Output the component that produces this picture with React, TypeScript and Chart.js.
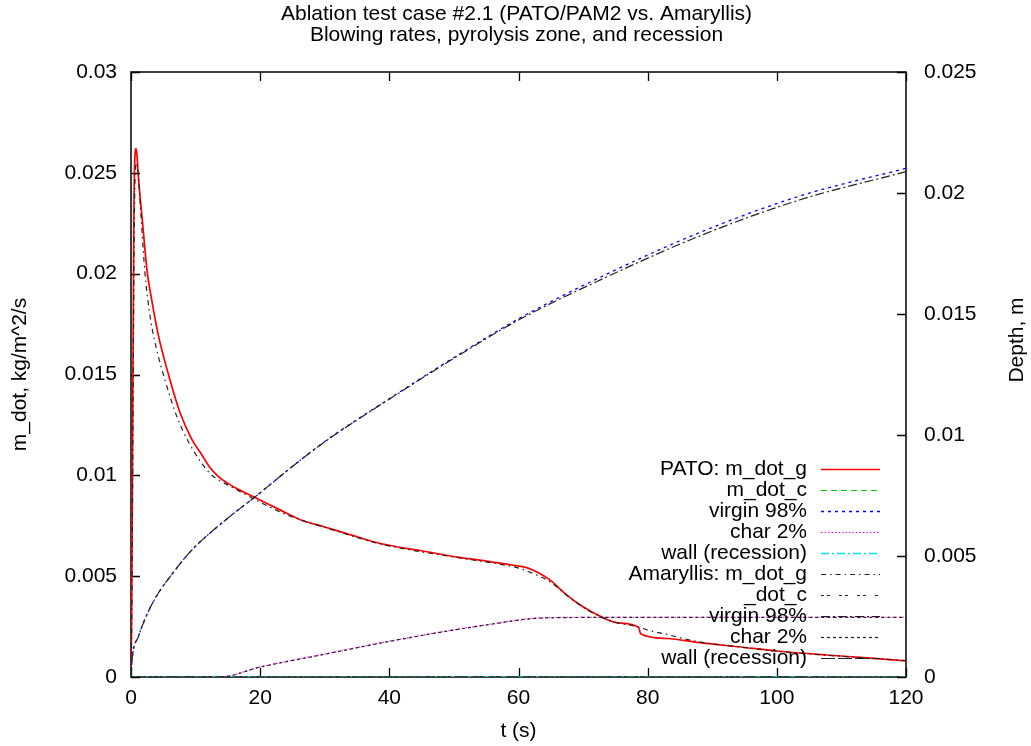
import React, { useEffect, useRef } from 'react';
import { Chart, registerables } from 'chart.js';
Chart.register(...registerables);

const FONT = "'Liberation Sans', Arial, Helvetica, sans-serif";
const FS = 21;

const titleLines = ['Ablation test case #2.1 (PATO/PAM2 vs. Amaryllis)', 'Blowing rates, pyrolysis zone, and recession'];
const xAxisTitle = 't (s)';
const yAxisTitle = 'm_dot, kg/m^2/s';
const y2AxisTitle = 'Depth, m';

const legendLabels = [
  'PATO: m_dot_g', 'm_dot_c', 'virgin 98%', 'char 2%', 'wall (recession)',
  'Amaryllis: m_dot_g', '_dot_c', 'virgin 98%', 'char 2%', 'wall (recession)',
];

// PATO m_dot_g (left axis)
const tPatoG = [0, 0.1, 0.25, 0.45, 0.6, 0.77, 0.95, 1.1, 1.8, 2.5, 3.1, 4.2, 5.8, 7.6, 9.4, 11, 12.2, 13.5, 15, 16.5, 19.2, 23, 26.2, 30, 34, 38.6, 45, 50.9, 55, 59.2, 61.5, 63.3, 64.9, 67.5, 70, 72.6, 75.2, 78.6, 78.9, 83, 88, 94, 100, 107.7, 114, 120];
const patoG = [0, 0.003, 0.012, 0.023, 0.0258, 0.0262, 0.0258, 0.025, 0.0225, 0.0201, 0.0189, 0.017, 0.015, 0.0131, 0.0118, 0.011, 0.0104, 0.00995, 0.0096, 0.00932, 0.0089, 0.0083, 0.0078, 0.00744, 0.00705, 0.00662, 0.00626, 0.00593, 0.00575, 0.00554, 0.0054, 0.00513, 0.0048, 0.00406, 0.00348, 0.00302, 0.00269, 0.00246, 0.00215, 0.00191, 0.0017, 0.0015, 0.00129, 0.00109, 0.00095, 0.0008];

// Amaryllis m_dot_g (left axis)
const tAmaG = [0, 0.15, 0.3, 0.5, 0.7, 0.9, 1.2, 2.17, 3, 4, 5.2, 7, 9, 12.2, 14, 16, 19.2, 23, 26.2, 30, 38.6, 50.9, 57, 60, 62.5, 65, 67.5, 70, 72.6, 75.2, 78.6, 80, 83, 85.5, 88, 94, 100, 107.7, 114, 120];
const amaG = [0, 0.004, 0.012, 0.022, 0.0252, 0.0255, 0.0245, 0.02, 0.0178, 0.0162, 0.0148, 0.013, 0.0116, 0.0101, 0.0097, 0.00935, 0.0088, 0.0082, 0.0078, 0.00742, 0.0066, 0.0059, 0.0056, 0.0054, 0.0051, 0.0047, 0.00404, 0.00346, 0.003, 0.0027, 0.00248, 0.00233, 0.00211, 0.00191, 0.00174, 0.0015, 0.00128, 0.00108, 0.00094, 0.00081];

// virgin 98% depth (right axis)
const tVirgin = [0, 0.2, 1.13, 2.5, 4.2, 6.5, 9.4, 14.6, 19.2, 24.9, 30, 40, 50, 60, 72.6, 88.1, 103.6, 120];
const patoVirgin = [0, 0.0008, 0.00166, 0.0026, 0.00345, 0.0043, 0.00524, 0.00648, 0.00744, 0.00868, 0.00973, 0.0115, 0.0132, 0.0148, 0.01651, 0.01837, 0.01988, 0.02102];
const amaVirgin = [0, 0.0008, 0.00166, 0.0026, 0.00345, 0.0043, 0.00524, 0.00648, 0.00744, 0.00868, 0.00972, 0.01148, 0.01317, 0.01475, 0.0164, 0.01823, 0.01972, 0.02088];

// char 2% depth (right axis)
const tChar = [0, 13.8, 20, 30, 40, 50, 57, 60, 62.5, 66, 70, 120];
const patoChar = [0, 0, 0.00042, 0.00095, 0.00148, 0.00195, 0.00224, 0.00236, 0.00243, 0.00246, 0.00247, 0.00247];
const amaChar = [0, 0, 0.00041, 0.00094, 0.00147, 0.00194, 0.00223, 0.00235, 0.00242, 0.00245, 0.00246, 0.00246];

// zero series (m_dot_c, wall recession)
const tZero = [0, 120];
const zeroVals = [0, 0];

const xTicks = [0, 20, 40, 60, 80, 100, 120];
const yTicks = [0, 0.005, 0.01, 0.015, 0.02, 0.025, 0.03];
const y2Ticks = [0, 0.005, 0.01, 0.015, 0.02, 0.025];

const styles = [
  { color: '#ff0000', dash: [], width: 1.7 },
  { color: '#00cc00', dash: [6, 4], width: 1.2 },
  { color: '#0000ff', dash: [3, 4], width: 1.3 },
  { color: '#ff00ff', dash: [1.5, 2], width: 1.2 },
  { color: '#00e0f0', dash: [8, 3, 2, 3], width: 1.3 },
  { color: '#222222', dash: [5, 4, 1.5, 4], width: 1.2 },
  { color: '#222222', dash: [3, 3, 3, 9], width: 1.2 },
  { color: '#222222', dash: [9, 3, 2, 3], width: 1.2 },
  { color: '#222222', dash: [3, 3], width: 1.2 },
  { color: '#222222', dash: [14, 3], width: 1.2 },
];

const zip = (xs: number[], ys: number[]) => xs.map((x, i) => ({ x, y: ys[i] }));

const seriesDefs = [
  { data: zip(tPatoG, patoG), axis: 'y' },
  { data: zip(tZero, zeroVals), axis: 'y' },
  { data: zip(tVirgin, patoVirgin), axis: 'y2' },
  { data: zip(tChar, patoChar), axis: 'y2' },
  { data: zip(tZero, zeroVals), axis: 'y2' },
  { data: zip(tAmaG, amaG), axis: 'y' },
  { data: zip(tZero, zeroVals), axis: 'y' },
  { data: zip(tVirgin, amaVirgin), axis: 'y2' },
  { data: zip(tChar, amaChar), axis: 'y2' },
  { data: zip(tZero, zeroVals), axis: 'y2' },
];

const framePlugin = {
  id: 'frame',
  beforeDatasetsDraw(chart: any) {
    const { ctx, chartArea: a, scales } = chart;
    ctx.save();
    ctx.strokeStyle = '#000';
    ctx.lineWidth = 1.5;
    ctx.strokeRect(a.left, a.top, a.right - a.left, a.bottom - a.top);
    ctx.lineWidth = 1.3;
    const TL = 9;
    ctx.beginPath();
    xTicks.forEach((v) => {
      const px = Math.round(scales.x.getPixelForValue(v)) + 0.5;
      ctx.moveTo(px, a.bottom); ctx.lineTo(px, a.bottom - TL);
      ctx.moveTo(px, a.top); ctx.lineTo(px, a.top + TL);
    });
    yTicks.forEach((v) => {
      const py = Math.round(scales.y.getPixelForValue(v)) + 0.5;
      ctx.moveTo(a.left, py); ctx.lineTo(a.left + TL, py);
    });
    y2Ticks.forEach((v) => {
      const py = Math.round(scales.y2.getPixelForValue(v)) + 0.5;
      ctx.moveTo(a.right, py); ctx.lineTo(a.right - TL, py);
    });
    ctx.stroke();
    ctx.restore();
  },
  afterDraw(chart: any) {
    const { ctx, chartArea: a } = chart;
    ctx.save();
    ctx.fillStyle = '#000';
    ctx.font = `${FS}px ${FONT}`;
    ctx.textAlign = 'center';
    ctx.textBaseline = 'middle';
    const cx = (a.left + a.right) / 2 - 2;
    ctx.fillText(titleLines[0], cx, 14);
    ctx.fillText(titleLines[1], cx, 35);
    ctx.fillText(xAxisTitle, cx + 2, 731);
    const cy = (a.top + a.bottom) / 2;
    ctx.save();
    ctx.translate(20, cy);
    ctx.rotate(-Math.PI / 2);
    ctx.fillText(yAxisTitle, 0, 0);
    ctx.restore();
    ctx.save();
    ctx.translate(1017, 340);
    ctx.rotate(-Math.PI / 2);
    ctx.fillText(y2AxisTitle, 0, 0);
    ctx.restore();
    // legend
    ctx.textAlign = 'right';
    legendLabels.forEach((lab, i) => {
      const y = 469 + 21 * i;
      ctx.fillStyle = '#000';
      ctx.fillText(lab, 807, y);
      const s = styles[i];
      ctx.save();
      ctx.strokeStyle = s.color;
      ctx.lineWidth = s.width;
      ctx.setLineDash(s.dash);
      ctx.beginPath();
      ctx.moveTo(821, y + 0.5);
      ctx.lineTo(880, y + 0.5);
      ctx.stroke();
      ctx.restore();
    });
    ctx.restore();
  },
};

export default function App() {
  const ref = useRef<HTMLCanvasElement | null>(null);
  useEffect(() => {
    document.body.style.margin = '0';
    const canvas = ref.current;
    if (!canvas) return;
    const fmt = (v: any) => String(+Number(v).toFixed(4));
    const chart = new Chart(canvas, {
      type: 'line',
      data: {
        datasets: seriesDefs.map((d, i) => ({
          label: legendLabels[i],
          data: d.data,
          yAxisID: d.axis,
          borderColor: styles[i].color,
          borderWidth: styles[i].width,
          borderDash: styles[i].dash,
          pointRadius: 0,
          fill: false,
          cubicInterpolationMode: 'monotone',
          order: -i,
        })),
      },
      options: {
        animation: false,
        responsive: false,
        maintainAspectRatio: false,
        layout: { padding: { top: 72, left: 0, right: 0, bottom: 0 } },
        plugins: { legend: { display: false }, title: { display: false }, tooltip: { enabled: false } },
        scales: {
          x: {
            type: 'linear', min: 0, max: 120,
            grid: { display: false, drawTicks: false },
            border: { display: false },
            ticks: { stepSize: 20, color: '#000', font: { family: FONT, size: FS }, padding: 9, maxRotation: 0 },
            afterFit: (s: any) => { s.height = 69; },
          },
          y: {
            type: 'linear', position: 'left', min: 0, max: 0.03,
            grid: { display: false, drawTicks: false },
            border: { display: false },
            ticks: { stepSize: 0.005, color: '#000', font: { family: FONT, size: FS }, padding: 14, callback: fmt },
            afterFit: (s: any) => { s.width = 131; },
          },
          y2: {
            type: 'linear', position: 'right', min: 0, max: 0.025,
            grid: { display: false, drawTicks: false },
            border: { display: false },
            ticks: { stepSize: 0.005, color: '#000', font: { family: FONT, size: FS }, padding: 18, callback: fmt },
            afterFit: (s: any) => { s.width = 125; },
          },
        },
      },
      plugins: [framePlugin],
    } as any);
    return () => chart.destroy();
  }, []);
  return (
    <div style={{ width: 1031, height: 746, background: '#fff' }}>
      <canvas ref={ref} width={1031} height={746} style={{ display: 'block' }} />
    </div>
  );
}
